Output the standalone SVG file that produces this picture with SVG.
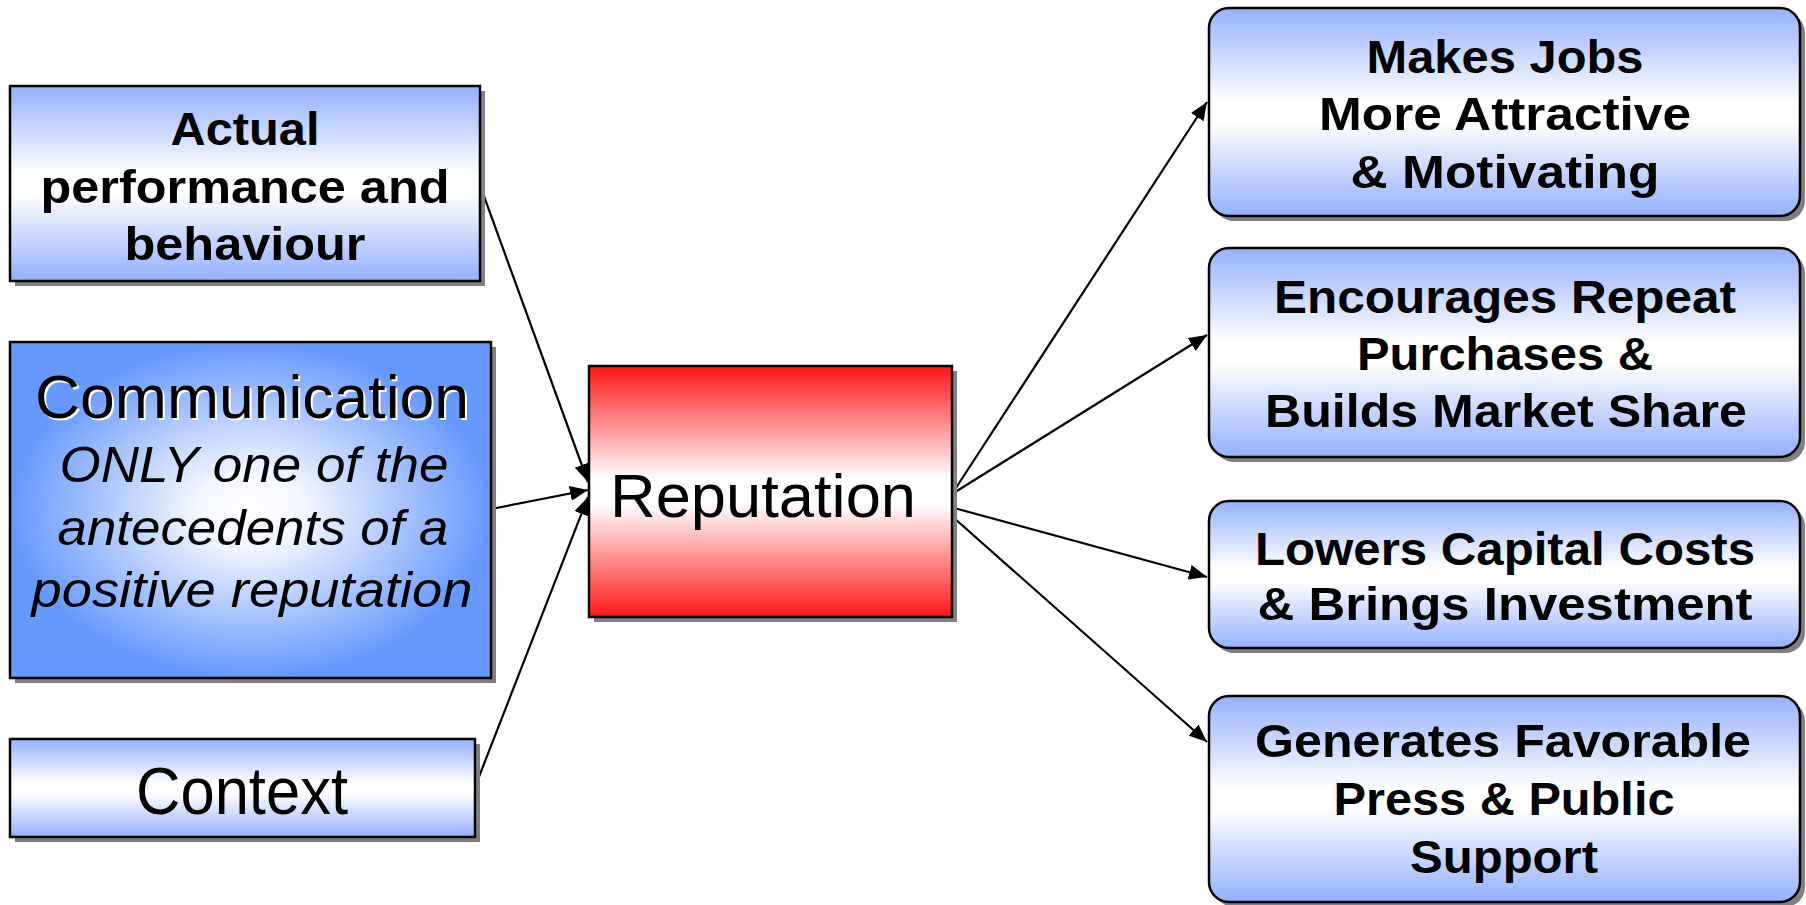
<svg xmlns="http://www.w3.org/2000/svg" width="1806" height="905" viewBox="0 0 1806 905">
<style>
.box{stroke:#000;stroke-width:2.5}
.shadow{fill:#808080}
.b{font-family:"Liberation Sans",Arial,sans-serif;font-weight:bold;font-size:46px;fill:#000;text-anchor:middle}
.r{font-family:"Liberation Sans",Arial,sans-serif;font-size:62px;fill:#000;text-anchor:middle}
.i{font-family:"Liberation Sans",Arial,sans-serif;font-style:italic;font-size:50px;fill:#000;text-anchor:middle}
.conn{stroke:#000;stroke-width:2.2;fill:none;marker-end:url(#arrow)}
</style>
<defs>
<linearGradient id="blueV" x1="0" y1="0" x2="0" y2="1">
<stop offset="0" stop-color="#94b0ff"/>
<stop offset="0.45" stop-color="#ffffff"/>
<stop offset="0.55" stop-color="#ffffff"/>
<stop offset="1" stop-color="#94b0ff"/>
</linearGradient>
<linearGradient id="redV" x1="0" y1="0" x2="0" y2="1">
<stop offset="0" stop-color="#ff1616"/>
<stop offset="0.45" stop-color="#ffffff"/>
<stop offset="0.55" stop-color="#ffffff"/>
<stop offset="1" stop-color="#ff1616"/>
</linearGradient>
<radialGradient id="blueR" cx="0.5" cy="0.5" r="0.55">
<stop offset="0" stop-color="#ffffff"/>
<stop offset="0.2" stop-color="#f4f7ff"/>
<stop offset="0.9" stop-color="#6699ff"/>
<stop offset="1" stop-color="#6699ff"/>
</radialGradient>
<marker id="arrow" markerUnits="userSpaceOnUse" markerWidth="19" markerHeight="15" refX="18" refY="7.5" orient="auto">
<path d="M0,0 L18,7.5 L0,15 z" fill="#000"/>
</marker>
</defs>

<g id="connectors">
<line class="conn" x1="481" y1="188" x2="588" y2="482"/>
<line class="conn" x1="491" y1="509" x2="588" y2="490"/>
<line class="conn" x1="475" y1="787" x2="588" y2="497"/>
<line class="conn" x1="952" y1="494" x2="1207" y2="102"/>
<line class="conn" x1="952" y1="494" x2="1207" y2="335"/>
<line class="conn" x1="954" y1="508" x2="1207" y2="577"/>
<line class="conn" x1="954" y1="518" x2="1207" y2="742"/>
</g>

<g id="actual">
<rect class="shadow" x="15" y="91" width="470" height="195"/>
<rect class="box" x="10" y="86" width="470" height="195" fill="url(#blueV)"/>
<text class="b" x="245" y="145" textLength="149" lengthAdjust="spacingAndGlyphs">Actual</text>
<text class="b" x="245" y="203" textLength="409" lengthAdjust="spacingAndGlyphs">performance and</text>
<text class="b" x="245" y="260" textLength="241" lengthAdjust="spacingAndGlyphs">behaviour</text>
</g>

<g id="communication">
<rect class="shadow" x="15" y="347" width="481" height="336"/>
<rect class="box" x="10" y="342" width="481" height="336" fill="url(#blueR)"/>
<text class="r" x="254" y="420" textLength="434" lengthAdjust="spacingAndGlyphs" style="fill:#fff">Communication</text>
<text class="r" x="252" y="418" textLength="434" lengthAdjust="spacingAndGlyphs">Communication</text>
<text class="i" x="254" y="482" textLength="389" lengthAdjust="spacingAndGlyphs">ONLY one of the</text>
<text class="i" x="253" y="545" textLength="391" lengthAdjust="spacingAndGlyphs">antecedents of a</text>
<text class="i" x="252" y="607" textLength="441" lengthAdjust="spacingAndGlyphs">positive reputation</text>
</g>

<g id="context">
<rect class="shadow" x="15" y="744" width="465" height="98"/>
<rect class="box" x="10" y="739" width="465" height="98" fill="url(#blueV)"/>
<text class="r" x="242" y="814" textLength="212" lengthAdjust="spacingAndGlyphs" style="font-size:66px">Context</text>
</g>

<g id="reputation">
<rect class="shadow" x="594" y="371" width="363" height="251"/>
<rect class="box" x="589" y="366" width="363" height="251" fill="url(#redV)"/>
<text class="r" x="763" y="517" textLength="306" lengthAdjust="spacingAndGlyphs">Reputation</text>
</g>

<g id="jobs">
<rect class="shadow" x="1214" y="13" width="591" height="208" rx="20"/>
<rect class="box" x="1209" y="8" width="591" height="208" rx="20" fill="url(#blueV)"/>
<text class="b" x="1505" y="73" textLength="277" lengthAdjust="spacingAndGlyphs">Makes Jobs</text>
<text class="b" x="1505" y="130" textLength="372" lengthAdjust="spacingAndGlyphs">More Attractive</text>
<text class="b" x="1505" y="188" textLength="309" lengthAdjust="spacingAndGlyphs">&amp; Motivating</text>
</g>

<g id="purchases">
<rect class="shadow" x="1214" y="253" width="591" height="209" rx="20"/>
<rect class="box" x="1209" y="248" width="591" height="209" rx="20" fill="url(#blueV)"/>
<text class="b" x="1505" y="313" textLength="462" lengthAdjust="spacingAndGlyphs">Encourages Repeat</text>
<text class="b" x="1505" y="370" textLength="296" lengthAdjust="spacingAndGlyphs">Purchases &amp;</text>
<text class="b" x="1506" y="427" textLength="482" lengthAdjust="spacingAndGlyphs">Builds Market Share</text>
</g>

<g id="capital">
<rect class="shadow" x="1214" y="506" width="591" height="147" rx="20"/>
<rect class="box" x="1209" y="501" width="591" height="147" rx="20" fill="url(#blueV)"/>
<text class="b" x="1505" y="565" textLength="500" lengthAdjust="spacingAndGlyphs">Lowers Capital Costs</text>
<text class="b" x="1505" y="620" textLength="495" lengthAdjust="spacingAndGlyphs">&amp; Brings Investment</text>
</g>

<g id="press">
<rect class="shadow" x="1214" y="701" width="591" height="206" rx="20"/>
<rect class="box" x="1209" y="696" width="591" height="206" rx="20" fill="url(#blueV)"/>
<text class="b" x="1503" y="757" textLength="496" lengthAdjust="spacingAndGlyphs">Generates Favorable</text>
<text class="b" x="1504" y="815" textLength="341" lengthAdjust="spacingAndGlyphs">Press &amp; Public</text>
<text class="b" x="1504" y="873" textLength="188" lengthAdjust="spacingAndGlyphs">Support</text>
</g>
</svg>
